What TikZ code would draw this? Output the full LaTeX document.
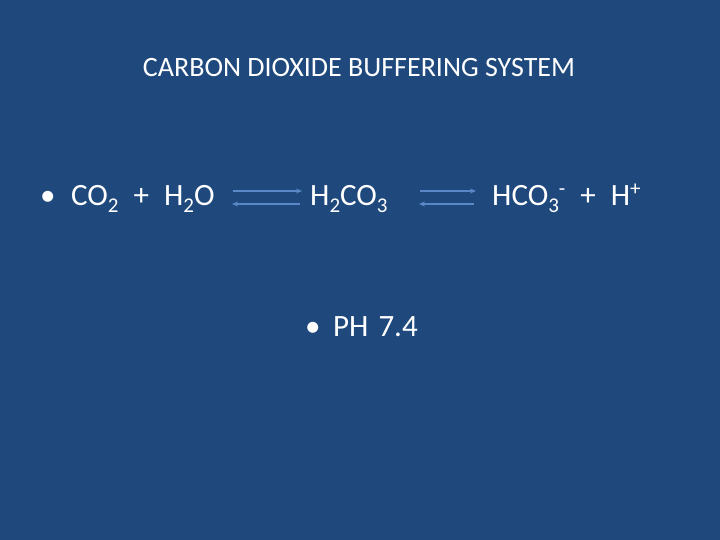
\documentclass[tikz,border=0pt]{standalone}
\usepackage{fontspec}
\setmainfont{Carlito}
\usetikzlibrary{arrows.meta}
\definecolor{bg}{HTML}{1F497D}
\definecolor{arr}{HTML}{5A88C6}
\newcommand{\mysub}[1]{\raisebox{-7pt}{\fontsize{21}{21}\selectfont #1}}
\newcommand{\mysup}[1]{\raisebox{10pt}{\fontsize{21}{21}\selectfont #1}}
\tikzset{
  txt/.style={text=white, inner sep=0pt, anchor=base west, font=\fontsize{31}{34}\selectfont},
  ttl/.style={text=white, inner sep=0pt, anchor=base, font=\fontsize{28}{32}\selectfont},
  eq/.style={draw=arr, line width=2.4pt, -{Stealth[length=6pt,width=5pt]}}
}
\begin{document}
\begin{tikzpicture}[x=1pt,y=-1pt]
\fill[bg] (0,0) rectangle (720,540);
\useasboundingbox (0,0) rectangle (720,540);
\node[ttl] (title) at (359,77) {CARBON DIOXIDE BUFFERING SYSTEM};
\node[txt] (b1) at (40,206) {\textbullet};
\node[txt] (lhs) at (71,206) {CO\mysub{2}\hspace{15pt}+\hspace{15pt}H\mysub{2}O};
\node[txt] (mid) at (310,206) {H\mysub{2}CO\mysub{3}};
\node[txt] (rhs) at (492,206) {HCO\mysub{3}\mysup{-}\hspace{15pt}+\hspace{15pt}H\mysup{+}};
\node[txt] (b2) at (305,336) {\textbullet};
\node[txt] (ph) at (333,336) {PH\hspace{10pt}7.4};
\coordinate (a1s) at (233,191); \coordinate (a1e) at (302,191);
\coordinate (a2s) at (300,204); \coordinate (a2e) at (232,204);
\coordinate (a3s) at (420,191); \coordinate (a3e) at (476,191);
\coordinate (a4s) at (474,204); \coordinate (a4e) at (419,204);
\draw[eq] (a1s) -- (a1e);
\draw[eq] (a2s) -- (a2e);
\draw[eq] (a3s) -- (a3e);
\draw[eq] (a4s) -- (a4e);
\end{tikzpicture}
\end{document}
